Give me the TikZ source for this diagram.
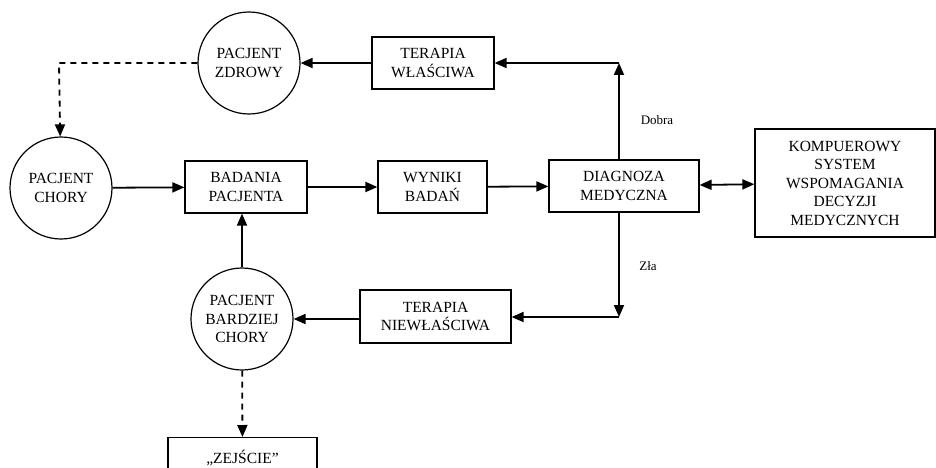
\documentclass[tikz,border=0pt]{standalone}
\usepackage{fontspec}
\setmainfont{Liberation Serif}
\usetikzlibrary{arrows.meta}
\begin{document}
\begin{tikzpicture}[x=1pt, y=-1pt,
    >={Triangle[length=12pt,width=10pt]},
    txt/.style={font=\fontsize{15.5}{18.5}\selectfont, align=center, inner sep=0pt},
    box/.style={txt, draw, line width=1.2pt, minimum height=52pt},
    pac/.style={txt, circle, draw, line width=1.2pt, minimum size=102pt},
    arr/.style={->, line width=1.8pt},
    lab/.style={font=\fontsize{13}{15}\selectfont}]
  \useasboundingbox (0,0) rectangle (936,468);
  \node[pac] (zdrowy) at (249,63) {PACJENT\\ZDROWY};
  \node[pac] (chory) at (61,188) {PACJENT\\CHORY};
  \node[pac] (bardziej) at (242,319) {PACJENT\\BARDZIEJ\\CHORY};
  \node[box, minimum width=122pt] (wlasciwa) at (433,63) {TERAPIA\\WŁAŚCIWA};
  \node[box, minimum width=122pt] (badania) at (246,187) {BADANIA\\PACJENTA};
  \node[box, minimum width=109pt] (wyniki) at (432.5,187) {WYNIKI\\BADAŃ};
  \node[box, minimum width=150pt] (diagnoza) at (624,186) {DIAGNOZA\\MEDYCZNA};
  \node[box, minimum width=180pt, minimum height=108pt] (system) at (845,183) {KOMPUEROWY\\SYSTEM\\WSPOMAGANIA\\DECYZJI\\MEDYCZNYCH};
  \node[box, minimum width=151pt, minimum height=53pt] (niewlasciwa) at (435.5,316.5) {TERAPIA\\NIEWŁAŚCIWA};
  \node[box, minimum width=149pt, minimum height=40pt, anchor=north] (zejscie) at (242.5,437) {,,ZEJŚCIE''};
  \coordinate (dobra) at (619,63);
  \coordinate (zla) at (619,317);
  \coordinate (kat) at (59,63);
  % main line
  \draw[arr] (chory) edge (badania);
  \draw[arr] (badania) edge (wyniki);
  \draw[arr] (wyniki) edge (diagnoza);
  \draw[arr, <->] (diagnoza) edge (system);
  % good and bad diagnosis
  \draw[arr] (diagnoza.north -| dobra) -- (dobra);
  \draw[arr] (dobra) -- (wlasciwa);
  \draw[arr] (wlasciwa) -- (zdrowy);
  \draw[arr] (diagnoza.south -| zla) -- (zla);
  \draw[arr] (zla) -- (niewlasciwa.east |- zla);
  \draw[arr] (niewlasciwa.west |- bardziej) -- (bardziej);
  \draw[arr] (bardziej) -- (bardziej.north |- badania.south);
  \draw[arr, dash pattern=on 6pt off 5pt] (zdrowy) -- (kat) -- (chory);
  \draw[arr, dash pattern=on 6pt off 5pt] (bardziej) -- (zejscie);
  \node[lab] (ldobra) at (657,120) {Dobra};
  \node[lab] (lzla) at (648,266) {Zła};
\end{tikzpicture}
\end{document}
